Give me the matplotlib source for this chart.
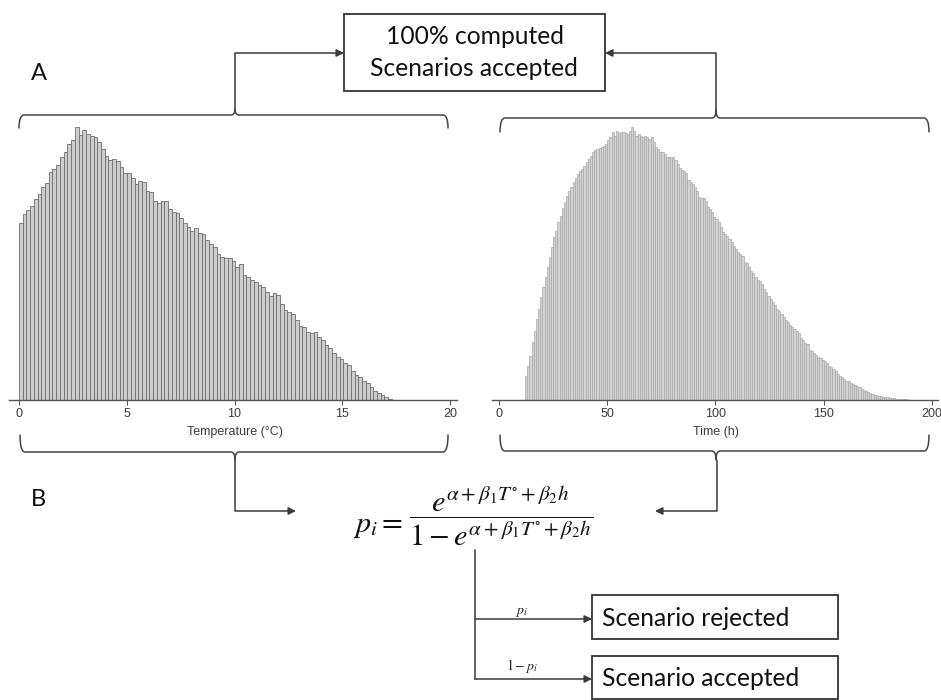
import matplotlib
matplotlib.use("Agg")
import matplotlib.pyplot as plt
from matplotlib.path import Path
from matplotlib.patches import PathPatch, Rectangle
import numpy as np

plt.rcParams["mathtext.fontset"] = "stix"

# ---------------- data ----------------
temp_bin_start = 0.0
temp_bin_width = 0.173
temp_counts = [
    532, 558, 570, 582, 602, 618, 638, 650, 683, 692,
    705, 730, 743, 767, 780, 820, 795, 810, 798, 792,
    788, 775, 752, 732, 720, 723, 718, 698, 682, 680,
    665, 648, 658, 655, 628, 625, 598, 592, 598, 598,
    572, 565, 560, 545, 530, 518, 508, 515, 502, 498,
    480, 467, 458, 438, 430, 425, 425, 418, 400, 408,
    375, 370, 360, 355, 345, 338, 325, 312, 322, 315,
    288, 270, 265, 258, 240, 222, 218, 205, 202, 205,
    190, 180, 165, 155, 142, 128, 122, 110, 105, 88,
    75, 70, 58, 50, 40, 28, 22, 15, 8, 4,
]

time_bin_start = 12.0
time_bin_width = 1.0
time_counts = [
    73, 103, 133, 173, 208, 243, 273, 308, 338, 368,
    398, 428, 460, 488, 508, 533, 553, 576, 593, 613,
    628, 638, 653, 666, 678, 688, 693, 703, 713, 723,
    733, 743, 750, 753, 756, 760, 763, 768, 780, 788,
    803, 793, 806, 800, 803, 803, 800, 798, 806, 818,
    806, 793, 798, 793, 790, 793, 790, 783, 788, 773,
    758, 753, 743, 743, 738, 730, 728, 730, 728, 720,
    708, 696, 690, 688, 680, 660, 653, 648, 638, 626,
    610, 606, 606, 598, 580, 573, 563, 550, 543, 533,
    520, 503, 498, 493, 483, 473, 463, 453, 443, 438,
    433, 413, 410, 398, 388, 380, 368, 360, 356, 348,
    333, 323, 313, 303, 293, 286, 273, 266, 258, 250,
    240, 233, 226, 220, 213, 206, 200, 186, 180, 170,
    168, 150, 146, 140, 136, 130, 126, 120, 116, 110,
    103, 98, 93, 86, 78, 73, 68, 63, 58, 56,
    50, 48, 46, 43, 38, 33, 30, 26, 23, 20,
    18, 16, 14, 13, 12, 10, 9, 8, 7, 6,
    5, 4, 4, 3, 3, 2, 2, 1, 1, 1,
]

temp_ticks = [0, 5, 10, 15, 20]
time_ticks = [0, 50, 100, 150, 200]
temp_label = "Temperature (°C)"
time_label = "Time (h)"
top_box_lines = ["100% computed", "Scenarios accepted"]
box_rejected = "Scenario rejected"
box_accepted = "Scenario accepted"
branch_labels = [r"$p_i$", r"$1-p_i$"]
formula_lhs = r"$p_i=$"
formula_frac = r"$\dfrac{e^{\alpha+\beta_1 T^{\circ}+\beta_2 h}}{1-e^{\alpha+\beta_1 T^{\circ}+\beta_2 h}}$"

# ---------------- figure ----------------
W, H = 941, 700
fig = plt.figure(figsize=(W / 100, H / 100), dpi=100)
fig.patch.set_facecolor("white")

TXT = "Lato"
LINE = "#3a3a3a"


def px_axes(x0, y0, x1, y1):
    return fig.add_axes([x0 / W, 1 - y1 / H, (x1 - x0) / W, (y1 - y0) / H])


def style_hist_axes(ax, ticks, xlim, label, labelx):
    ax.set_xlim(*xlim)
    ax.set_ylim(0, 840)
    for s in ["top", "right", "left"]:
        ax.spines[s].set_visible(False)
    ax.spines["bottom"].set_color("#555555")
    ax.spines["bottom"].set_linewidth(1.0)
    ax.set_yticks([])
    ax.set_xticks(ticks)
    ax.set_xticklabels([str(t) for t in ticks], family="Liberation Sans")
    ax.tick_params(axis="x", direction="out", length=3.5, width=0.8,
                   color="#555555", labelsize=9, labelcolor="#3c3c3c", pad=2.5)
    ax.set_xlabel(label, family="Liberation Sans", fontsize=9, color="#3c3c3c")
    ax.xaxis.label.set_va("center")
    ax.xaxis.set_label_coords(labelx, -0.114)
    ax.patch.set_visible(False)


# Left histogram: temperature
ax1 = px_axes(9, 120, 457, 400)
t_edges = temp_bin_start + temp_bin_width * np.arange(len(temp_counts))
ax1.bar(t_edges, temp_counts, width=temp_bin_width, align="edge",
        color="#cdcdcd", edgecolor="#6e6e6e", linewidth=0.6)
style_hist_axes(ax1, temp_ticks, (-0.46, 20.32), temp_label, (235 - 9) / 448)

# Right histogram: time
ax2 = px_axes(491.7, 120, 938, 400)
h_edges = time_bin_start + time_bin_width * np.arange(len(time_counts))
ax2.bar(h_edges, time_counts, width=time_bin_width, align="edge",
        color="#d3d3d3", edgecolor="#a9a9a9", linewidth=0.5)
style_hist_axes(ax2, time_ticks, (-3.4, 202.8), time_label, (716 - 491.7) / 446.3)

# ---------------- overlay in pixel coordinates ----------------
ov = fig.add_axes([0, 0, 1, 1])
ov.set_xlim(0, W)
ov.set_ylim(H, 0)
ov.axis("off")
ov.patch.set_visible(False)


def hbrace(x0, x1, xc, y_end, y_line, y_tip, r=5, rc=4, color="#444444", lw=1.1):
    verts = [(x0, y_end), (x0, y_line), (x0 + r, y_line),
             (xc - rc, y_line), (xc, y_line), (xc, y_tip),
             (xc, y_line), (xc + rc, y_line),
             (x1 - r, y_line), (x1, y_line), (x1, y_end)]
    codes = [Path.MOVETO, Path.CURVE3, Path.CURVE3,
             Path.LINETO, Path.CURVE3, Path.CURVE3,
             Path.CURVE3, Path.CURVE3,
             Path.LINETO, Path.CURVE3, Path.CURVE3]
    ov.add_patch(PathPatch(Path(verts, codes), fill=False, ec=color, lw=lw,
                           capstyle="round", joinstyle="round"))


def arrow_path(points, color=LINE, lw=1.1):
    xs = [p[0] for p in points[:-1]]
    ys = [p[1] for p in points[:-1]]
    if len(xs) > 1:
        ov.plot(xs, ys, color=color, lw=lw, solid_capstyle="butt")
    ov.annotate("", xy=points[-1], xytext=points[-2],
                arrowprops=dict(arrowstyle="-|>", color=color, lw=lw,
                                mutation_scale=11, shrinkA=0, shrinkB=0))


# braces around histograms
hbrace(19, 448, 235, 128, 115, 109)
hbrace(500, 929, 716, 132, 118, 110)
hbrace(20, 448, 235, 435, 452, 460)
hbrace(500, 929, 716, 435, 451, 460)

# connectors to the top box
arrow_path([(235, 109), (235, 53), (344, 53)])
arrow_path([(716, 110), (716, 53), (605, 53)])

# connectors to the formula
arrow_path([(235, 460), (235, 511), (296, 511)])
arrow_path([(717, 460), (717, 511), (655, 511)])

# branches below the formula
ov.plot([475, 475], [550, 679], color=LINE, lw=1.1)
arrow_path([(475, 619), (592, 619)])
arrow_path([(475, 679), (592, 679)])

# boxes
ov.add_patch(Rectangle((344, 14), 261, 77, fill=False, ec="#333333", lw=1.3))
ov.add_patch(Rectangle((592, 595), 246, 44, fill=False, ec="#333333", lw=1.3))
ov.add_patch(Rectangle((592, 656), 246, 43, fill=False, ec="#333333", lw=1.3))

renderer = fig.canvas.get_renderer()


def fit_width(t, target):
    bb = t.get_window_extent(renderer)
    t.set_fontsize(t.get_fontsize() * target / bb.width)
    return t


box_texts = [
    (ov.text(475, 37, top_box_lines[0], ha="center", va="center", family=TXT, fontsize=14, color="#111111"), 176),
    (ov.text(474, 68, top_box_lines[1], ha="center", va="center", family=TXT, fontsize=14, color="#111111"), 209),
    (ov.text(602, 618, box_rejected, ha="left", va="center", family=TXT, fontsize=14, color="#111111"), 190),
    (ov.text(602, 678, box_accepted, ha="left", va="center", family=TXT, fontsize=14, color="#111111"), 200),
]
sizes = []
for t, w in box_texts:
    bb = t.get_window_extent(renderer)
    sizes.append(14 * w / bb.width)
size = float(np.mean(sizes))
for t, _ in box_texts:
    t.set_fontsize(size)

# panel letters
ov.text(38.5, 74, "A", ha="center", va="center", family=TXT, fontsize=17, color="#111111")
ov.text(38, 500, "B", ha="center", va="center", family=TXT, fontsize=17, color="#111111")

# formula
lhs = ov.text(403, 532, formula_lhs, ha="right", va="baseline", fontsize=24, color="#111111")
fit_width(lhs, 50)
frac = ov.text(501, 516, formula_frac, ha="center", va="center", fontsize=16, color="#111111")
fit_width(frac, 186)

# branch labels
ov.text(521, 612, branch_labels[0], ha="center", va="center", fontsize=10, color="#222222")
ov.text(522, 666, branch_labels[1], ha="center", va="center", fontsize=10, color="#222222")

fig.savefig("out.png", dpi=100, facecolor="white")
